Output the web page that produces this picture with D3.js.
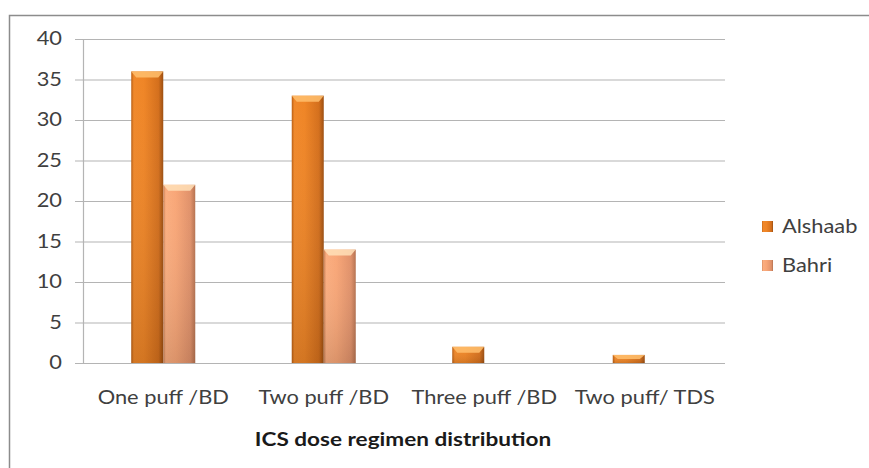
<!DOCTYPE html>
<html><head><meta charset="utf-8">
<script src="https://cdn.jsdelivr.net/npm/d3@7"></script>
<style>body{margin:0;background:#fff}svg{display:block}text{font-family:Lato,"Open Sans",sans-serif}</style>
</head><body>
<svg id="c" width="869" height="468"></svg>
<script>
const categories = ["One puff /BD", "Two puff /BD", "Three puff /BD", "Two puff/ TDS"];
const alshaab = [36, 33, 2, 1];
const bahri = [22, 14, 0, 0];
const seriesNames = ["Alshaab", "Bahri"];
const yTicks = [0, 5, 10, 15, 20, 25, 30, 35, 40];

(function () {
const svg = d3.select("#c");
const defs = svg.append("defs");
const FS = 18.5, SX = 1.18;
function grad(id, stops) {
  const g = defs.append("linearGradient").attr("id", id).attr("x1", "0%").attr("x2", "100%").attr("y1", "0%").attr("y2", "0%");
  stops.forEach(s => g.append("stop").attr("offset", s[0]).attr("stop-color", s[1]));
}
grad("gA", [["0%", "#b85d12"], ["8%", "#f0882a"], ["40%", "#ef8526"], ["85%", "#d46f1c"], ["100%", "#9c4e10"]]);
grad("gB", [["0%", "#c77f55"], ["8%", "#fbae80"], ["40%", "#f8a677"], ["85%", "#e0916a"], ["100%", "#b67250"]]);
const vA = defs.append("linearGradient").attr("id", "vA").attr("x1", "0").attr("x2", "0").attr("y1", "0").attr("y2", "1");
vA.append("stop").attr("offset", "0%").attr("stop-color", "#fff").attr("stop-opacity", 0.0);
vA.append("stop").attr("offset", "100%").attr("stop-color", "#000").attr("stop-opacity", 0.12);

// outer frame
svg.append("path").attr("d", "M9.5,468 V15.5 H869").attr("fill", "none").attr("stroke", "#8c8c8c").attr("stroke-width", 1.5);

const pLeft = 83, pRight = 725, pTop = 39, pBottom = 363;
const x = d3.scaleBand().domain(categories).range([pLeft, pRight]);
const y = d3.scaleLinear().domain([0, 40]).range([pBottom, pTop]);
const barW = 32;
const xs = d3.scaleBand().domain(seriesNames).range([0, barW * 2]);

// gridlines
svg.append("g").selectAll("line").data(yTicks).join("line")
  .attr("x1", pLeft - 8).attr("x2", pRight)
  .attr("y1", d => y(d) + 0.5).attr("y2", d => y(d) + 0.5)
  .attr("stroke", "#b4b4b4").attr("stroke-width", 1.2);
svg.append("line").attr("x1", pLeft + 0.5).attr("x2", pLeft + 0.5).attr("y1", pTop).attr("y2", pBottom)
  .attr("stroke", "#b4b4b4").attr("stroke-width", 1.2);

// y labels
svg.append("g").selectAll("text").data(yTicks).join("text")
  .attr("transform", d => `translate(62,${y(d)}) scale(${SX},1)`)
  .attr("dy", "0.35em").attr("text-anchor", "end")
  .attr("font-size", FS).attr("fill", "#404040").text(d => d);

// bars
const data = categories.map((c, i) => ({ c, vals: [alshaab[i], bahri[i]] }));
const groups = svg.append("g").selectAll("g").data(data).join("g")
  .attr("transform", d => `translate(${x(d.c) + x.bandwidth() / 2 - barW},0)`);
groups.each(function (d) {
  const g = d3.select(this);
  d.vals.forEach((v, j) => {
    if (v <= 0) return;
    const bx = xs(seriesNames[j]);
    const by = y(v), bh = pBottom - by;
    g.append("rect").attr("x", bx).attr("y", by).attr("width", barW).attr("height", bh)
      .attr("fill", j === 0 ? "url(#gA)" : "url(#gB)");
    g.append("rect").attr("x", bx).attr("y", by).attr("width", barW).attr("height", bh)
      .attr("fill", "url(#vA)");
    const bev = Math.min(6, bh / 2);
    g.append("path")
      .attr("d", `M${bx},${by} H${bx + barW} L${bx + barW - 5},${by + bev} H${bx + 5} Z`)
      .attr("fill", j === 0 ? "#ffc06e" : "#ffe0b8").attr("opacity", 0.85);
  });
});

// x labels
svg.append("g").selectAll("text").data(categories).join("text")
  .attr("transform", d => `translate(${x(d) + x.bandwidth() / 2},404) scale(${SX},1)`)
  .attr("text-anchor", "middle")
  .attr("font-size", FS).attr("fill", "#404040").text(d => d);

// axis title
svg.append("text").attr("transform", `translate(403,446) scale(1.22,1)`).attr("text-anchor", "middle")
  .attr("font-size", FS).attr("font-weight", "bold").attr("fill", "#1a1a1a")
  .text("ICS  dose regimen distribution");

// legend
const leg = svg.append("g").selectAll("g").data(seriesNames).join("g")
  .attr("transform", (d, i) => `translate(762,${227 + i * 39})`);
leg.append("rect").attr("x", 0).attr("y", -6).attr("width", 11).attr("height", 11)
  .attr("fill", (d, i) => i === 0 ? "url(#gA)" : "url(#gB)");
leg.append("text").attr("transform", `translate(20,0) scale(${SX},1)`).attr("dy", "0.35em")
  .attr("font-size", FS).attr("fill", "#404040").text(d => d);
})();
</script>
</body></html>
